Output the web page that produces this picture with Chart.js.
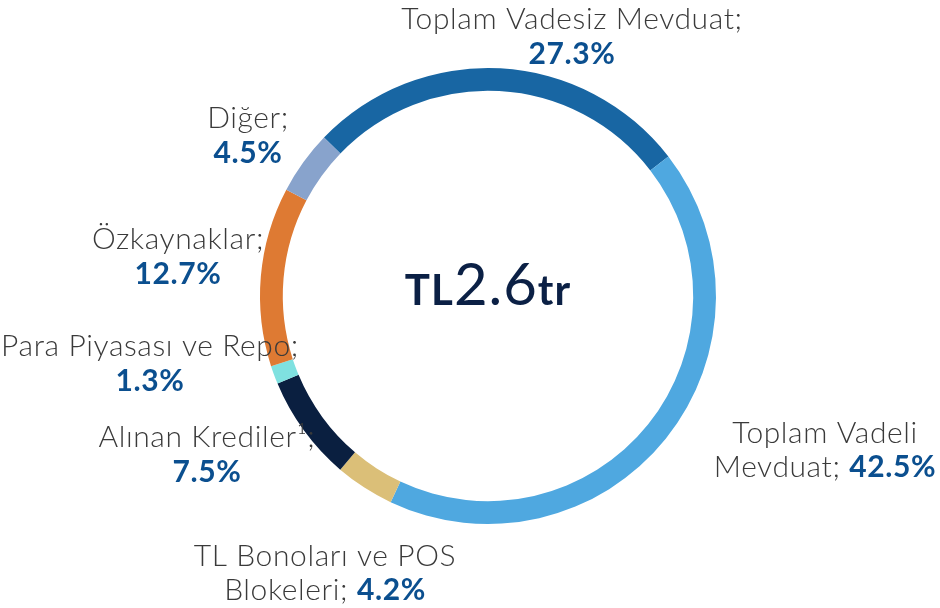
<!DOCTYPE html>
<html>
<head>
<meta charset="utf-8">
<script src="https://cdn.jsdelivr.net/npm/chart.js@4"></script>
<style>
  html, body { margin: 0; padding: 0; background: #fff; }
  #wrap { width: 940px; height: 608px; }
</style>
</head>
<body>
<div id="wrap"><canvas id="pie" width="940" height="608"></canvas></div>
<script>
// dados
const categories = ["Toplam Vadesiz Mevduat", "Toplam Vadeli Mevduat", "TL Bonoları ve POS Blokeleri", "Alınan Krediler¹", "Para Piyasası ve Repo", "Özkaynaklar", "Diğer"];
const shares = [27.3, 42.5, 4.2, 7.5, 1.3, 12.7, 4.5];
const colors = ["#1866a3", "#4fa8e0", "#dbbf78", "#0a1f40", "#7fe1e0", "#de7a33", "#88a3cc"];
const totalLabel = ["TL", "2.6", "tr"];

// posição dos rótulos (centro x, baseline da 1a linha, palavras na 1a linha)
const labelPos = [
  { x: 572, y: 29, split: null },
  { x: 825, y: 443, split: 2 },
  { x: 325, y: 566, split: 4 },
  { x: 207, y: 447, split: null },
  { x: 150, y: 356, split: null },
  { x: 178, y: 249, split: null },
  { x: 248, y: 128, split: null }
];

const FONT = "Lato, 'Open Sans', sans-serif";
const textColor = "#3a3a3a";
const pctColor = "#0b4f8f";

function pct(v) {
  return v.toFixed(1) + "%";
}

function drawLine(ctx, cx, y, parts, spacing) {
  ctx.letterSpacing = spacing + "px";
  let w = 0;
  parts.forEach(p => { ctx.font = p.font; w += ctx.measureText(p.text).width; });
  let x = cx - w / 2;
  parts.forEach(p => {
    ctx.font = p.font;
    ctx.fillStyle = p.color;
    ctx.fillText(p.text, x, y);
    x += ctx.measureText(p.text).width;
  });
}

const labelsPlugin = {
  id: "labels",
  afterDraw(chart) {
    const ctx = chart.ctx;
    const light = "300 30px " + FONT;
    const bold = "700 30px " + FONT;
    ctx.save();
    ctx.textBaseline = "alphabetic";
    ctx.textAlign = "left";
    categories.forEach((name, i) => {
      const pos = labelPos[i];
      const words = name.split(" ");
      if (pos.split == null) {
        drawLine(ctx, pos.x, pos.y, [{ text: name + ";", font: light, color: textColor }], 0.6);
        drawLine(ctx, pos.x, pos.y + 35, [{ text: pct(shares[i]), font: bold, color: pctColor }], 0.6);
      } else {
        drawLine(ctx, pos.x, pos.y, [{ text: words.slice(0, pos.split).join(" "), font: light, color: textColor }], 0.6);
        drawLine(ctx, pos.x, pos.y + 34, [
          { text: words.slice(pos.split).join(" ") + "; ", font: light, color: textColor },
          { text: pct(shares[i]), font: bold, color: pctColor }
        ], 0.6);
      }
    });

    // texto central
    const arc = chart.getDatasetMeta(0).data[0];
    drawLine(ctx, arc.x, arc.y + 9, [
      { text: totalLabel[0], font: "700 42px " + FONT, color: "#0b2045" },
      { text: totalLabel[1], font: "400 58px " + FONT, color: "#0b2045" },
      { text: totalLabel[2], font: "700 42px " + FONT, color: "#0b2045" }
    ], 1);
    ctx.restore();
  }
};

new Chart(document.getElementById("pie"), {
  type: "doughnut",
  data: {
    labels: categories,
    datasets: [{
      data: shares,
      backgroundColor: colors,
      borderWidth: 0
    }]
  },
  options: {
    responsive: false,
    animation: false,
    rotation: -46,
    cutout: "90%",
    layout: {
      padding: { left: 260, right: 224, top: 68, bottom: 84 }
    },
    plugins: {
      legend: { display: false },
      tooltip: { enabled: false }
    }
  },
  plugins: [labelsPlugin]
});
</script>
</body>
</html>
